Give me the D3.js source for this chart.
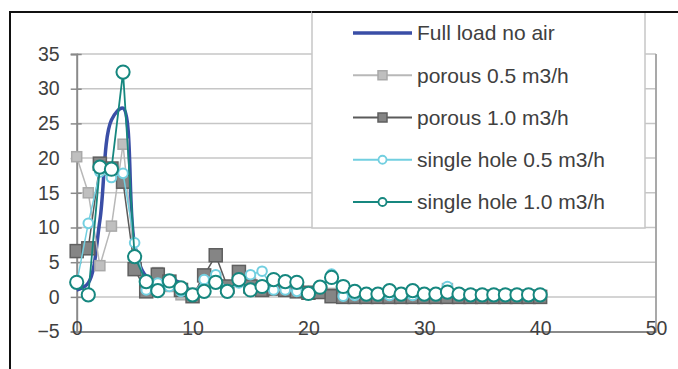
<!DOCTYPE html>
<html>
<head>
<meta charset="utf-8">
<script src="https://cdn.jsdelivr.net/npm/d3@7"></script>
<style>
  html, body { margin: 0; padding: 0; background: #fff; }
  svg { display: block; font-family: Arial, "Liberation Sans", sans-serif; }
</style>
</head>
<body>
<svg width="678" height="369"></svg>
<script>
document.addEventListener('DOMContentLoaded', function() {

// x positions (0..40) and series values
const xs = d3.range(0, 41);
const xsFull = d3.range(0, 11);

const fullLoadNoAir = [1.0, 2.0, 11.0, 25.5, 27.2, 7.5, 3.0, 2.6, 2.6, 2.0, 0.5];

const porous05 = [20.2, 15.0, 4.5, 10.2, 22.0, 5.0, 1.0, 3.5, 1.5, 0.3,
                  0.5, 2.0, 2.8, 1.5, 2.5, 2.0, 1.5, 1.5, 1.2, 1.0,
                  0.5, 1.0, 0.5, 0.2, 0.2, 0.2, 0.2, 0.2, 0.2, 0.2,
                  0.2, 0.2, 1.2, 0.2, 0.2, 0.2, 0.2, 0.2, 0.2, 0.2, 0.2];

const porous10 = [6.6, 7.0, 19.2, 18.5, 16.6, 4.0, 0.8, 3.2, 2.2, 1.0,
                  0.1, 3.1, 6.0, 1.5, 3.6, 1.5, 1.0, 1.2, 1.0, 0.8,
                  0.6, 0.7, 0.1, 0.0, 0.0, 0.0, 0.0, 0.0, 0.0, 0.0,
                  0.0, 0.0, 0.0, 0.0, 0.0, 0.0, 0.0, 0.0, 0.0, 0.0, 0.0];

const single05 = [2.0, 10.6, 18.0, 17.2, 17.8, 7.8, 1.0, 2.0, 1.5, 0.8,
                  0.3, 2.5, 3.2, 1.0, 2.0, 3.2, 3.7, 1.0, 1.0, 0.8,
                  0.4, 1.5, 3.3, 0.1, 0.2, 0.2, 0.2, 0.2, 0.2, 0.2,
                  0.2, 0.2, 1.5, 0.2, 0.2, 0.2, 0.2, 0.2, 0.2, 0.2, 0.2];

const single10 = [2.1, 0.3, 18.7, 18.4, 32.4, 5.8, 2.2, 0.9, 2.3, 1.3,
                  0.3, 0.8, 2.1, 0.8, 2.5, 1.0, 1.5, 2.5, 2.2, 2.1,
                  0.5, 1.4, 2.8, 1.5, 0.8, 0.4, 0.4, 0.9, 0.4, 0.9,
                  0.4, 0.4, 0.7, 0.4, 0.3, 0.3, 0.3, 0.3, 0.3, 0.3, 0.3];

const xTicks = [0, 10, 20, 30, 40, 50];
const yTicks = [-5, 0, 5, 10, 15, 20, 25, 30, 35];

const series = [
    { name: "Full load no air", x: xsFull, y: fullLoadNoAir, line: "#3a4ea6", width: 3.5, marker: null },
    { name: "porous 0.5 m3/h", x: xs, y: porous05, line: "#b8b8b8", width: 1.5, marker: "square", fill: "#bfbfbf", stroke: "#a9a9a9", size: 10 },
    { name: "porous 1.0 m3/h", x: xs, y: porous10, line: "#5a5a5a", width: 1.5, marker: "square", fill: "#858585", stroke: "#5f5f5f", size: 13 },
    { name: "single hole 0.5 m3/h", x: xs, y: single05, line: "#72cfe0", width: 1.5, marker: "circle", fill: "#fff", stroke: "#72cfe0", size: 4.8 },
    { name: "single hole 1.0 m3/h", x: xs, y: single10, line: "#16877f", width: 1.8, marker: "circle", fill: "#fff", stroke: "#16877f", size: 6.6 }
];

const svg = d3.select("svg");

const x = d3.scaleLinear().domain([0, 50]).range([76.7, 656]);
const y = d3.scaleLinear().domain([-5, 35]).range([331.6, 54]);

// outer frame
svg.append("path")
    .attr("d", "M10,369V12H678")
    .attr("fill", "none")
    .attr("stroke", "#111")
    .attr("stroke-width", 2);

// gridlines
svg.append("g")
    .selectAll("line")
    .data(yTicks.filter(t => t > -5))
    .enter()
    .append("line")
    .attr("x1", x(0)).attr("x2", x(50))
    .attr("y1", d => y(d)).attr("y2", d => y(d))
    .attr("stroke", "#c6c6c6")
    .attr("stroke-width", 1.5);

// right border of plot area
svg.append("line")
    .attr("x1", x(50)).attr("x2", x(50))
    .attr("y1", y(35)).attr("y2", y(-5))
    .attr("stroke", "#a0a0a0")
    .attr("stroke-width", 1.8);

// y axis
const yAxis = svg.append("g")
    .attr("transform", `translate(${x(0)},0)`)
    .call(d3.axisLeft(y).tickValues(yTicks).tickSize(6).tickPadding(11));
yAxis.select(".domain").attr("stroke", "#8a8a8a").attr("stroke-width", 2);
yAxis.selectAll(".tick line").attr("stroke", "#8a8a8a").attr("stroke-width", 1.5).attr("x2", 5).attr("x1", -6);
yAxis.selectAll(".tick text")
    .attr("fill", "#404040")
    .attr("font-size", 19.5)
    .attr("font-family", "Arial, 'Liberation Sans', sans-serif");

// x axis (sits at y = -5, labels straddle the line)
const xAxis = svg.append("g")
    .attr("transform", `translate(0,${y(-5)})`)
    .call(d3.axisBottom(x).tickValues(xTicks).tickSize(0).tickPadding(0));
xAxis.select(".domain").attr("stroke", "#8a8a8a").attr("stroke-width", 2);
xAxis.selectAll(".tick text")
    .attr("fill", "#404040")
    .attr("font-size", 19.5)
    .attr("font-family", "Arial, 'Liberation Sans', sans-serif")
    .attr("dy", "0.3em")
    .attr("y", -2);

// series
const plot = svg.append("g");
series.forEach(s => {
    const pts = s.x.map((xv, i) => [xv, s.y[i]]);
    const line = d3.line()
        .x(d => x(d[0]))
        .y(d => y(d[1]))
        .curve(s.marker ? d3.curveLinear : d3.curveCatmullRom.alpha(0.5));
    plot.append("path")
        .datum(pts)
        .attr("d", line)
        .attr("fill", "none")
        .attr("stroke", s.line)
        .attr("stroke-width", s.width)
        .attr("stroke-linejoin", "round");
    if (s.marker === "square") {
        plot.selectAll(null)
            .data(pts)
            .enter()
            .append("rect")
            .attr("x", d => x(d[0]) - s.size / 2)
            .attr("y", d => y(d[1]) - s.size / 2)
            .attr("width", s.size)
            .attr("height", s.size)
            .attr("fill", s.fill)
            .attr("stroke", s.stroke)
            .attr("stroke-width", 1.5);
    } else if (s.marker === "circle") {
        plot.selectAll(null)
            .data(pts)
            .enter()
            .append("circle")
            .attr("cx", d => x(d[0]))
            .attr("cy", d => y(d[1]))
            .attr("r", s.size)
            .attr("fill", s.fill)
            .attr("stroke", s.stroke)
            .attr("stroke-width", 2);
    }
});

// legend box (opaque, on top of plot)
const legend = svg.append("g");
legend.append("rect")
    .attr("x", 312).attr("y", 12)
    .attr("width", 333).attr("height", 216)
    .attr("fill", "#fff")
    .attr("stroke", "#c6c6c6")
    .attr("stroke-width", 1.5);
svg.append("line")
    .attr("x1", 312).attr("x2", 678).attr("y1", 12).attr("y2", 12)
    .attr("stroke", "#111").attr("stroke-width", 2);

const legendY = d3.scalePoint().domain(series.map(s => s.name)).range([33, 202]);
series.forEach(s => {
    const ly = legendY(s.name);
    const g = legend.append("g");
    g.append("line")
        .attr("x1", 353).attr("x2", 412)
        .attr("y1", ly).attr("y2", ly)
        .attr("stroke", s.line)
        .attr("stroke-width", s.marker ? 2 : 3.5);
    if (s.marker === "square") {
        const sz = 9;
        g.append("rect")
            .attr("x", 382.5 - sz / 2).attr("y", ly - sz / 2)
            .attr("width", sz).attr("height", sz)
            .attr("fill", s.fill).attr("stroke", s.stroke).attr("stroke-width", 1.5);
    } else if (s.marker === "circle") {
        g.append("circle")
            .attr("cx", 382.5).attr("cy", ly).attr("r", 4)
            .attr("fill", "#fff").attr("stroke", s.stroke).attr("stroke-width", 1.8);
    }
    g.append("text")
        .attr("x", 417).attr("y", ly)
        .attr("dy", "0.35em")
        .attr("font-size", 21)
        .attr("fill", "#404040")
        .text(s.name);
});

});
</script>
</body>
</html>
